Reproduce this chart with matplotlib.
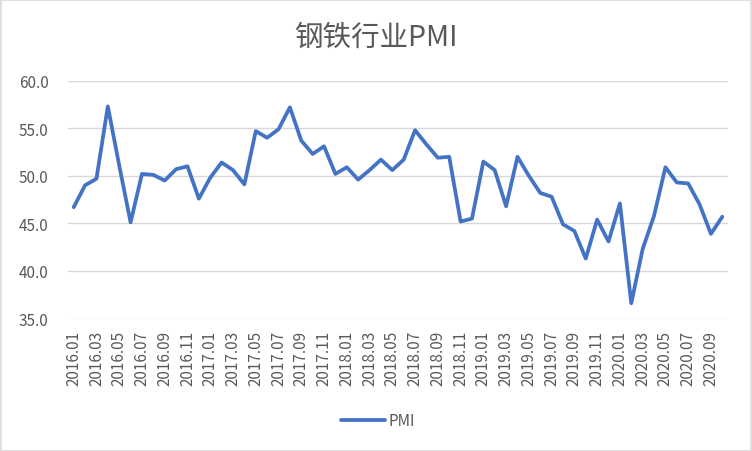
import matplotlib
matplotlib.use("Agg")
import matplotlib.pyplot as plt
from matplotlib.patches import Rectangle

plt.rcParams['font.family'] = ['Noto Sans CJK SC', 'DejaVu Sans']

# monthly labels 2016.01 .. 2020.10
months = [f"{y}.{m:02d}" for y in range(2016, 2021) for m in range(1, 13)][:58]

pmi = [46.7, 49.0, 49.7, 57.3, 51.1, 45.1, 50.2, 50.1, 49.5, 50.7,
       51.0, 47.6, 49.8, 51.4, 50.6, 49.1, 54.7, 54.0, 54.9, 57.2,
       53.7, 52.3, 53.1, 50.2, 50.9, 49.6, 50.6, 51.7, 50.6, 51.7,
       54.8, 53.3, 51.9, 52.0, 45.2, 45.5, 51.5, 50.6, 46.8, 52.0,
       50.0, 48.2, 47.8, 44.9, 44.2, 41.3, 45.4, 43.1, 47.1, 36.6,
       42.3, 45.8, 50.9, 49.3, 49.2, 47.0, 43.9, 45.7]

W, H = 752, 452
fig = plt.figure(figsize=(W / 100, H / 100), dpi=100)
ax = fig.add_axes([68 / W, 1 - 319.5 / H, 660 / W, (319.5 - 81.7) / H])

x = list(range(len(pmi)))
ax.plot(x, pmi, color="#4472C4", linewidth=2.7, solid_joinstyle="round",
        solid_capstyle="round", label="PMI", zorder=3)

ax.set_xlim(-0.5, len(pmi) - 0.5)
ax.set_ylim(35, 60)
ax.set_yticks([35, 40, 45, 50, 55, 60])
ax.set_yticklabels([f"{v:.1f}" for v in [35, 40, 45, 50, 55, 60]])
ax.set_xticks(x[::2])
ax.set_xticklabels(months[::2], rotation=90)

ax.grid(axis="y", color="#d9d9d9", linewidth=1.0)
for s in ax.spines.values():
    s.set_visible(False)
ax.tick_params(axis="both", length=0, colors="#595959", labelsize=11)
ax.tick_params(axis="y", pad=14)
ax.tick_params(axis="x", pad=8)

fig.text(0.5, 1 - 38 / H, "钢铁行业PMI", ha="center", va="center",
         fontsize=20.5, color="#595959", fontweight="light")

leg = fig.legend(loc="center", bbox_to_anchor=(378 / W, 1 - 422 / H),
                 frameon=False, fontsize=11, handlelength=2.9,
                 handletextpad=0.25)
for t in leg.get_texts():
    t.set_color("#595959")

fig.patches.append(Rectangle((0.5 / W, 0.5 / H), 1 - 1.5 / W, 1 - 1.5 / H,
                             transform=fig.transFigure, fill=False,
                             edgecolor="#d9d9d9", linewidth=1.2))

fig.savefig("out.png", dpi=100)
